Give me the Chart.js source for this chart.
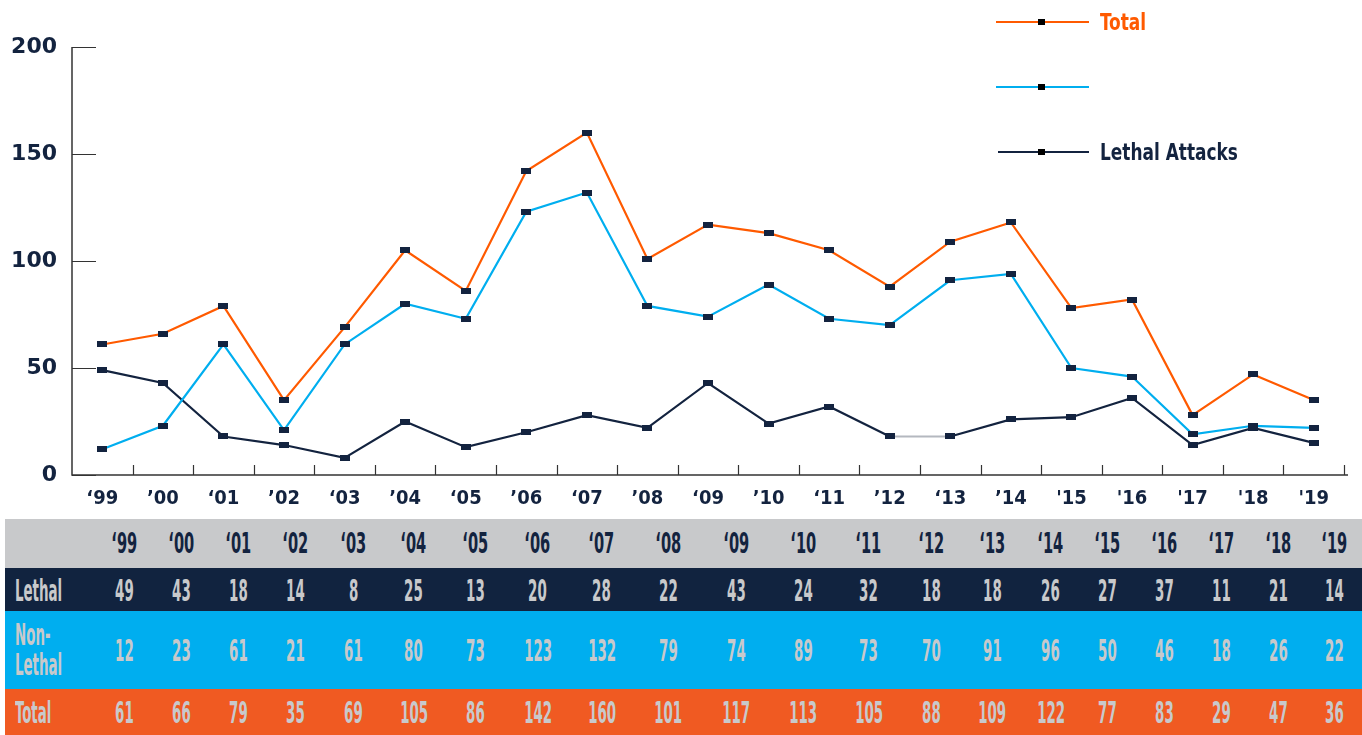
<!DOCTYPE html>
<html>
<head>
<meta charset="utf-8">
<script src="https://cdn.jsdelivr.net/npm/chart.js@4.4.1/dist/chart.umd.min.js"></script>
<style>
    body { margin: 0; background: #fff; width: 1362px; height: 735px; overflow: hidden; position: relative; }
    .chart-wrap { position: absolute; left: 0; top: 0; width: 1362px; height: 515px; }
    .legend { position: absolute; left: 996px; top: 0; font-family: "DejaVu Sans Condensed", sans-serif; font-weight: bold; font-size: 23px; }
    .legend-row { position: absolute; left: 0; width: 300px; height: 30px; }
    .legend-line { position: absolute; left: 0; top: 14px; width: 93px; height: 2px; }
    .legend-dot { position: absolute; left: 42px; top: 12px; width: 7px; height: 6px; background: #000; }
    .legend-text { position: absolute; left: 104px; top: 0; line-height: 30px; white-space: nowrap; transform: scaleX(0.82); transform-origin: left center; }
    table.data { position: absolute; left: 5px; top: 519px; width: 1357px; border-collapse: collapse; table-layout: fixed;
        font-family: "DejaVu Sans Condensed", sans-serif; font-weight: bold; font-size: 31px; color: #c8c9cb; }
    table.data td { text-align: center; padding: 0; white-space: nowrap; }
    table.data td span { display: inline-block; transform: scaleX(0.48); transform-origin: center center; }
    table.data td.lbl { text-align: left; padding-left: 10px; }
    table.data td.lbl span { transform-origin: left center; line-height: 30px; }
    tr.head { background: #c8c9cb; color: #13233f; height: 49px; font-size: 28px; }
    tr.head td span { transform: scaleX(0.58); }
    tr.lethal { background: #11233f; height: 43px; }
    tr.nonlethal { background: #00aeef; height: 78px; }
    tr.total { background: #f05a22; height: 46px; }
</style>
</head>
<body>
<div class="chart-wrap"><canvas id="attackChart"></canvas></div>

<div class="legend">
    <div class="legend-row" style="top: 7px;">
        <div class="legend-line" style="background:#ff5a00"></div><div class="legend-dot"></div>
        <div class="legend-text" style="color:#ff5a00">Total</div>
    </div>
    <div class="legend-row" style="top: 72px;">
        <div class="legend-line" style="background:#00aeef"></div><div class="legend-dot"></div>
        <div class="legend-text"></div>
    </div>
    <div class="legend-row" style="top: 137px;">
        <div class="legend-line" style="background:#13233f; left:2px; width:91px"></div><div class="legend-dot"></div>
        <div class="legend-text" style="color:#13233f">Lethal Attacks</div>
    </div>
</div>

<table class="data" id="dataTable"></table>

<script>
// Chart data (line points as drawn)
const yearLabels = ['\u201899', '\u201900', '\u201801', '\u201902', '\u201803', '\u201904', '\u201805', '\u201906', '\u201807', '\u201908',
    '\u201809', '\u201910', '\u201811', '\u201912', '\u201813', '\u201914', "'15", "'16", "'17", "'18", "'19"];
const totalLine = [61, 66, 79, 35, 69, 105, 86, 142, 160, 101, 117, 113, 105, 88, 109, 118, 78, 82, 28, 47, 35];
const nonLethalLine = [12, 23, 61, 21, 61, 80, 73, 123, 132, 79, 74, 89, 73, 70, 91, 94, 50, 46, 19, 23, 22];
const lethalLine = [49, 43, 18, 14, 8, 25, 13, 20, 28, 22, 43, 24, 32, 18, 18, 26, 27, 36, 14, 22, 15];
const yTicks = [0, 50, 100, 150, 200];

// Table data
const tableYears = ['\u201899', '\u201800', '\u201801', '\u201802', '\u201803', '\u201804', '\u201805', '\u201806', '\u201807', '\u201808',
    '\u201809', '\u201810', '\u201811', '\u201812', '\u201813', '\u201814', '\u201815', '\u201816', '\u201817', '\u201818', '\u201819'];
const tableLethal = [49, 43, 18, 14, 8, 25, 13, 20, 28, 22, 43, 24, 32, 18, 18, 26, 27, 37, 11, 21, 14];
const tableNonLethal = [12, 23, 61, 21, 61, 80, 73, 123, 132, 79, 74, 89, 73, 70, 91, 96, 50, 46, 18, 26, 22];
const tableTotal = [61, 66, 79, 35, 69, 105, 86, 142, 160, 101, 117, 113, 105, 88, 109, 122, 77, 83, 29, 47, 36];

// column widths of the table (layout only)
const colWidths = [90, 58, 57, 57, 57.5, 58.5, 61.5, 62, 62.5, 65.5, 68, 67.5, 66.5, 64.5, 61, 60, 57.5, 56.5, 57.5, 56.5, 56.5, 55.5];

const NAVY = '#13233f';

function buildTable() {
    const table = document.getElementById('dataTable');
    const cg = document.createElement('colgroup');
    cg.innerHTML = colWidths.map(w => `<col style="width:${w}px">`).join('');
    table.appendChild(cg);
    const rows = [
        { cls: 'head', label: '', values: tableYears },
        { cls: 'lethal', label: 'Lethal', values: tableLethal },
        { cls: 'nonlethal', label: 'Non-<br>Lethal', values: tableNonLethal },
        { cls: 'total', label: 'Total', values: tableTotal }
    ];
    rows.forEach(r => {
        const tr = document.createElement('tr');
        tr.className = r.cls;
        tr.innerHTML = `<td class="lbl"><span>${r.label}</span></td>` + r.values.map(v => `<td><span>${v}</span></td>`).join('');
        table.appendChild(tr);
    });
}

// small flat rectangle used as the point marker
function makeMarker() {
    const c = document.createElement('canvas');
    c.width = 10; c.height = 6;
    const g = c.getContext('2d');
    g.fillStyle = NAVY;
    g.fillRect(0, 0, 10, 6);
    return c;
}

// axis lines and ticks that point inward
const innerTicks = {
    id: 'innerTicks',
    afterDraw(chart) {
        const { ctx, chartArea, scales } = chart;
        ctx.save();
        ctx.strokeStyle = '#333';
        ctx.lineWidth = 1.5;
        ctx.beginPath();
        ctx.moveTo(chartArea.left, scales.y.getPixelForValue(200));
        ctx.lineTo(chartArea.left, chartArea.bottom);
        ctx.lineTo(chartArea.right + 4, chartArea.bottom);
        ctx.stroke();
        ctx.lineWidth = 1.2;
        ctx.beginPath();
        yTicks.forEach(v => {
            const y = Math.round(scales.y.getPixelForValue(v)) + 0.5;
            ctx.moveTo(chartArea.left, y);
            ctx.lineTo(chartArea.left + 24, y);
        });
        const n = yearLabels.length;
        const step = (chartArea.right - chartArea.left) / n;
        for (let i = 1; i <= n; i++) {
            const x = Math.round(chartArea.left + step * i) + 0.5;
            ctx.moveTo(x, chartArea.bottom);
            ctx.lineTo(x, chartArea.bottom - 10);
        }
        ctx.stroke();
        ctx.restore();
    }
};

document.addEventListener('DOMContentLoaded', function () {
    buildTable();
    const marker = makeMarker();

    const common = {
        borderWidth: 2.2,
        pointStyle: marker,
        pointRadius: 4,
        tension: 0,
        fill: false
    };

    new Chart(document.getElementById('attackChart'), {
        type: 'line',
        data: {
            labels: yearLabels,
            datasets: [
                { ...common, label: 'Total', data: totalLine, borderColor: '#ff5a00' },
                { ...common, label: 'Non-Lethal', data: nonLethalLine, borderColor: '#00aeef' },
                {
                    ...common, label: 'Lethal Attacks', data: lethalLine, borderColor: NAVY,
                    segment: { borderColor: c => c.p0DataIndex === 13 ? '#b4b8bf' : undefined }
                }
            ]
        },
        options: {
            responsive: true,
            maintainAspectRatio: false,
            animation: false,
            layout: { padding: { top: 47, right: 18, left: 0, bottom: 0 } },
            plugins: { legend: { display: false }, tooltip: { enabled: false } },
            scales: {
                x: {
                    offset: true,
                    grid: { display: false, drawTicks: false },
                    border: { display: false },
                    ticks: {
                        color: NAVY, padding: 12, maxRotation: 0, autoSkip: false,
                        font: { family: '"DejaVu Sans Condensed", sans-serif', size: 20, weight: 'bold' }
                    },
                    afterFit: s => { s.height = 40; }
                },
                y: {
                    min: 0, max: 200,
                    afterBuildTicks: s => { s.ticks = yTicks.map(v => ({ value: v })); },
                    grid: { display: false, drawTicks: false },
                    border: { display: false },
                    ticks: {
                        color: NAVY, padding: 15,
                        font: { family: '"DejaVu Sans", sans-serif', size: 22, weight: 'bold' }
                    },
                    afterFit: s => { s.width = 72; }
                }
            }
        },
        plugins: [innerTicks]
    });
});
</script>
</body>
</html>
